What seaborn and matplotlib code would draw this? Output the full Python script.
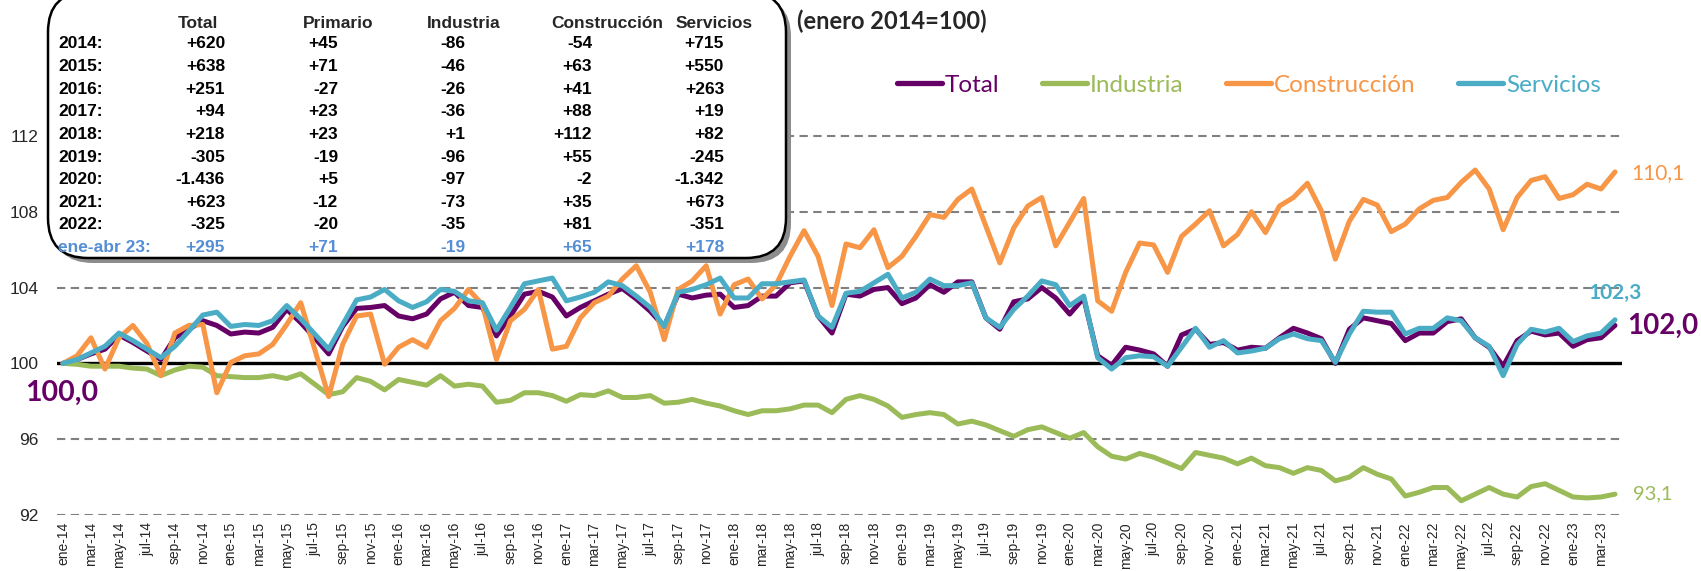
import matplotlib
matplotlib.use("Agg")
import matplotlib.pyplot as plt
from matplotlib.patches import FancyBboxPatch
from matplotlib.lines import Line2D
from matplotlib import font_manager
import pandas as pd
import seaborn as sns

# eje x: meses ene-14 ... abr-23
meses = ['ene', 'feb', 'mar', 'abr', 'may', 'jun', 'jul', 'ago', 'sep', 'oct', 'nov', 'dic']
fechas = [f'{m}-{a % 100:02d}' for a in range(2014, 2024) for m in meses][:112]

total = [100.0, 100.2, 100.5, 100.75, 101.5, 101.1, 100.65, 100.2, 101.35, 101.8,
         102.25, 102.0, 101.55, 101.65, 101.6, 101.9, 102.85, 102.15, 101.35, 100.5,
         101.95, 102.9, 102.95, 103.05, 102.5, 102.35, 102.6, 103.4, 103.75, 103.05,
         102.95, 101.45, 102.5, 103.65, 103.8, 103.5, 102.5, 102.95, 103.3, 103.65,
         103.95, 103.4, 102.75, 101.95, 103.65, 103.45, 103.6, 103.65, 102.95, 103.05,
         103.55, 103.55, 104.25, 104.35, 102.5, 101.6, 103.65, 103.55, 103.9, 104.0,
         103.15, 103.45, 104.15, 103.75, 104.3, 104.3, 102.4, 101.8, 103.25, 103.4,
         104.0, 103.45, 102.6, 103.45, 100.4, 99.9, 100.85, 100.7, 100.5, 99.85,
         101.5, 101.8, 101.0, 101.1, 100.7, 100.85, 100.8, 101.35, 101.85, 101.6,
         101.3, 100.0, 101.8, 102.4, 102.25, 102.1, 101.2, 101.6, 101.6, 102.2,
         102.35, 101.35, 100.85, 99.85, 101.2, 101.7, 101.5, 101.6, 100.9, 101.25,
         101.35, 102.0]
industria = [100.0, 99.95, 99.85, 99.85, 99.85, 99.75, 99.7, 99.35, 99.65, 99.85,
             99.8, 99.35, 99.3, 99.25, 99.25, 99.35, 99.2, 99.45, 98.9, 98.35,
             98.5, 99.25, 99.05, 98.6, 99.15, 99.0, 98.85, 99.35, 98.8, 98.9,
             98.8, 97.95, 98.05, 98.45, 98.45, 98.3, 98.0, 98.35, 98.3, 98.55,
             98.2, 98.2, 98.3, 97.9, 97.95, 98.1, 97.9, 97.75, 97.5, 97.3,
             97.5, 97.5, 97.6, 97.8, 97.8, 97.4, 98.1, 98.3, 98.1, 97.75,
             97.15, 97.3, 97.4, 97.3, 96.8, 96.95, 96.75, 96.45, 96.15, 96.5,
             96.65, 96.35, 96.05, 96.35, 95.6, 95.1, 94.95, 95.25, 95.05, 94.75,
             94.45, 95.3, 95.15, 95.0, 94.7, 95.0, 94.6, 94.5, 94.2, 94.5,
             94.35, 93.8, 94.0, 94.5, 94.15, 93.9, 93.0, 93.2, 93.45, 93.45,
             92.75, 93.1, 93.45, 93.1, 92.95, 93.5, 93.65, 93.3, 92.95, 92.9,
             92.95, 93.1]
construccion = [100.0, 100.4, 101.35, 99.7, 101.35, 102.0, 101.05, 99.35, 101.6, 102.0,
                102.05, 98.45, 100.05, 100.4, 100.5, 101.0, 102.05, 103.2, 100.75, 98.25,
                101.0, 102.5, 102.6, 99.95, 100.85, 101.25, 100.85, 102.25, 102.9, 103.9,
                103.1, 100.2, 102.25, 102.85, 103.9, 100.75, 100.9, 102.4, 103.2, 103.55,
                104.45, 105.15, 103.75, 101.25, 103.9, 104.35, 105.15, 102.6, 104.15, 104.45,
                103.4, 104.15, 105.65, 107.0, 105.65, 103.05, 106.3, 106.1, 107.05, 105.05,
                105.65, 106.7, 107.85, 107.7, 108.65, 109.2, 107.25, 105.3, 107.15, 108.3,
                108.75, 106.2, 107.45, 108.7, 103.3, 102.75, 104.8, 106.35, 106.25, 104.8,
                106.7, 107.35, 108.05, 106.2, 106.8, 108.0, 106.9, 108.3, 108.75, 109.5,
                108.05, 105.5, 107.5, 108.65, 108.35, 106.95, 107.35, 108.15, 108.6, 108.75,
                109.55, 110.2, 109.2, 107.05, 108.75, 109.65, 109.85, 108.7, 108.9, 109.45,
                109.2, 110.1]
servicios = [100.0, 100.2, 100.55, 100.9, 101.6, 101.2, 100.75, 100.3, 100.9, 101.7,
             102.55, 102.7, 101.95, 102.05, 102.0, 102.25, 103.05, 102.35, 101.55, 100.75,
             102.05, 103.35, 103.5, 103.9, 103.3, 102.95, 103.25, 103.9, 103.8, 103.3,
             103.2, 101.75, 102.95, 104.2, 104.35, 104.5, 103.3, 103.5, 103.75, 104.3,
             104.1, 103.55, 102.95, 101.95, 103.75, 103.9, 104.15, 104.5, 103.45, 103.45,
             104.2, 104.2, 104.3, 104.4, 102.5, 101.9, 103.7, 103.8, 104.25, 104.7,
             103.45, 103.75, 104.45, 104.1, 104.1, 104.25, 102.4, 101.9, 102.85, 103.55,
             104.35, 104.15, 103.05, 103.55, 100.3, 99.7, 100.3, 100.4, 100.35, 99.85,
             100.85, 101.85, 100.85, 101.2, 100.55, 100.65, 100.8, 101.3, 101.55, 101.3,
             101.2, 100.05, 101.55, 102.75, 102.7, 102.7, 101.55, 101.85, 101.85, 102.4,
             102.25, 101.35, 100.9, 99.35, 101.0, 101.8, 101.65, 101.85, 101.15, 101.45,
             101.6, 102.3]

# tabla de variaciones
filas = ['2014:', '2015:', '2016:', '2017:', '2018:', '2019:', '2020:', '2021:', '2022:', 'ene-abr 23:']
cabecera = ['Total', 'Primario', 'Industria', 'Construcción', 'Servicios']
t_total = ['+620', '+638', '+251', '+94', '+218', '-305', '-1.436', '+623', '-325', '+295']
t_prim = ['+45', '+71', '-27', '+23', '+23', '-19', '+5', '-12', '-20', '+71']
t_ind = ['-86', '-46', '-26', '-36', '+1', '-96', '-97', '-73', '-35', '-19']
t_cons = ['-54', '+63', '+41', '+88', '+112', '+55', '-2', '+35', '+81', '+65']
t_serv = ['+715', '+550', '+263', '+19', '+82', '-245', '-1.342', '+673', '-351', '+178']

series = ['Total', 'Industria', 'Construcción', 'Servicios']
colores = {'Total': '#660066', 'Industria': '#9BBB59',
           'Construcción': '#F79646', 'Servicios': '#4BACC6'}

df = pd.DataFrame({'mes': range(len(fechas)), 'Total': total, 'Industria': industria,
                   'Construcción': construccion, 'Servicios': servicios})
df = df.melt(id_vars='mes', var_name='serie', value_name='indice')

sns.set_style("white")
plt.rcParams['font.family'] = ['Liberation Sans', 'DejaVu Sans']

nombres = {f.name for f in font_manager.fontManager.ttflist}
narrow = 'Liberation Sans Narrow' if 'Liberation Sans Narrow' in nombres else 'Liberation Sans'
tam_tabla = 13.5 if narrow == 'Liberation Sans Narrow' else 12.5

W, H = 1701, 571
fig = plt.figure(figsize=(W / 100, H / 100), dpi=100)
ax = fig.add_axes([57 / W, 1 - 515 / H, (1622 - 57) / W, (515 - 98) / H])

sns.lineplot(data=df, x='mes', y='indice', hue='serie', hue_order=series,
             palette=colores, linewidth=3.6, legend=False, errorbar=None, ax=ax)

ax.set_xlim(-0.43, 111.5)
ax.set_ylim(92, 114)
ax.set_yticks([92, 96, 100, 104, 108, 112])
ax.set_xticks(range(0, len(fechas), 2))
ax.set_xticklabels(fechas[::2], rotation=90, fontsize=10, color='#262626')
ax.tick_params(axis='y', labelsize=12.5, length=0, pad=13, labelcolor='#262626')
ax.tick_params(axis='x', length=0, pad=5)
ax.set_xlabel('')
ax.set_ylabel('')
for s in ax.spines.values():
    s.set_visible(False)
ax.grid(axis='y', color='#808080', linestyle=(0, (4, 2.6)), linewidth=1.5)
ax.grid(axis='x', visible=False)
ax.set_axisbelow(True)
ax.axhline(100, color='black', linewidth=2.4, zorder=1.5)

# etiquetas de valores
def fmt(v):
    return f'{v:.1f}'.replace('.', ',')

ax.annotate(fmt(total[0]), xy=(0, total[0]), xytext=(-1, -21), textcoords='offset points',
            ha='center', va='center', color=colores['Total'], fontsize=20.5,
            fontweight='bold', family='Lato', annotation_clip=False)
ax.annotate(fmt(total[-1]), xy=(111, total[-1]), xytext=(9, 0), textcoords='offset points',
            ha='left', va='center', color=colores['Total'], fontsize=20,
            fontweight='bold', family='Lato', annotation_clip=False)
ax.annotate(fmt(construccion[-1]), xy=(111, construccion[-1]), xytext=(12, -1),
            textcoords='offset points', ha='left', va='center',
            color=colores['Construcción'], fontsize=15, family='Lato', annotation_clip=False)
ax.annotate(fmt(servicios[-1]), xy=(111, servicios[-1]), xytext=(0, 19),
            textcoords='offset points', ha='center', va='center',
            color=colores['Servicios'], fontsize=15, fontweight='bold', family='Lato',
            annotation_clip=False)
ax.annotate(fmt(industria[-1]), xy=(111, industria[-1]), xytext=(13, 0),
            textcoords='offset points', ha='left', va='center',
            color=colores['Industria'], fontsize=14.5, family='Lato', annotation_clip=False)

# leyenda
handles = [Line2D([], [], color=colores[s], linewidth=3.8) for s in series]
leg = fig.legend(handles, series, loc='center', bbox_to_anchor=(1249 / W, 1 - 85 / H),
                 ncol=4, frameon=False, prop={'family': 'Lato', 'size': 17.5},
                 handlelength=1.85, handletextpad=0.12, columnspacing=1.75)
for t, s in zip(leg.get_texts(), series):
    t.set_color(colores[s])

# titulo
fig.text(797 / W, 1 - 21 / H, '(enero 2014=100)', ha='left', va='center',
         fontsize=17, fontweight='bold', family='Lato')

# recuadro de la tabla
bx0, bx1, by0, by1 = 48, 786, 258, -8
r = 40 / W
sombra = FancyBboxPatch(((bx0 + 5) / W, 1 - (by0 + 5) / H), (bx1 - bx0) / W, (by0 - by1) / H,
                        boxstyle=f'round,pad=0,rounding_size={r}', mutation_aspect=W / H,
                        transform=fig.transFigure, facecolor='#8c8c8c', edgecolor='none',
                        zorder=4)
caja = FancyBboxPatch((bx0 / W, 1 - by0 / H), (bx1 - bx0) / W, (by0 - by1) / H,
                      boxstyle=f'round,pad=0,rounding_size={r}', mutation_aspect=W / H,
                      transform=fig.transFigure, facecolor='white', edgecolor='black',
                      linewidth=1.8, zorder=5)
fig.add_artist(sombra)
fig.add_artist(caja)

cab_x = [198, 338, 464, 607, 714]
col_x = [225, 338, 465, 592, 724]
for cx, txt in zip(cab_x, cabecera):
    fig.text(cx / W, 1 - 23 / H, txt, ha='center', va='center', fontsize=tam_tabla,
             fontweight='bold', family=narrow, zorder=6)
columnas = [t_total, t_prim, t_ind, t_cons, t_serv]
for k, fila in enumerate(filas):
    y = 1 - (44 + 22.6 * k) / H
    color = '#558ED5' if k == len(filas) - 1 else 'black'
    fig.text(58 / W, y, fila, ha='left', va='center', fontsize=tam_tabla,
             fontweight='bold', family=narrow, color=color, zorder=6)
    for cx, col in zip(col_x, columnas):
        fig.text(cx / W, y, col[k], ha='right', va='center', fontsize=tam_tabla,
                 fontweight='bold', family=narrow, color=color, zorder=6)

fig.savefig('out.png', dpi=100)
